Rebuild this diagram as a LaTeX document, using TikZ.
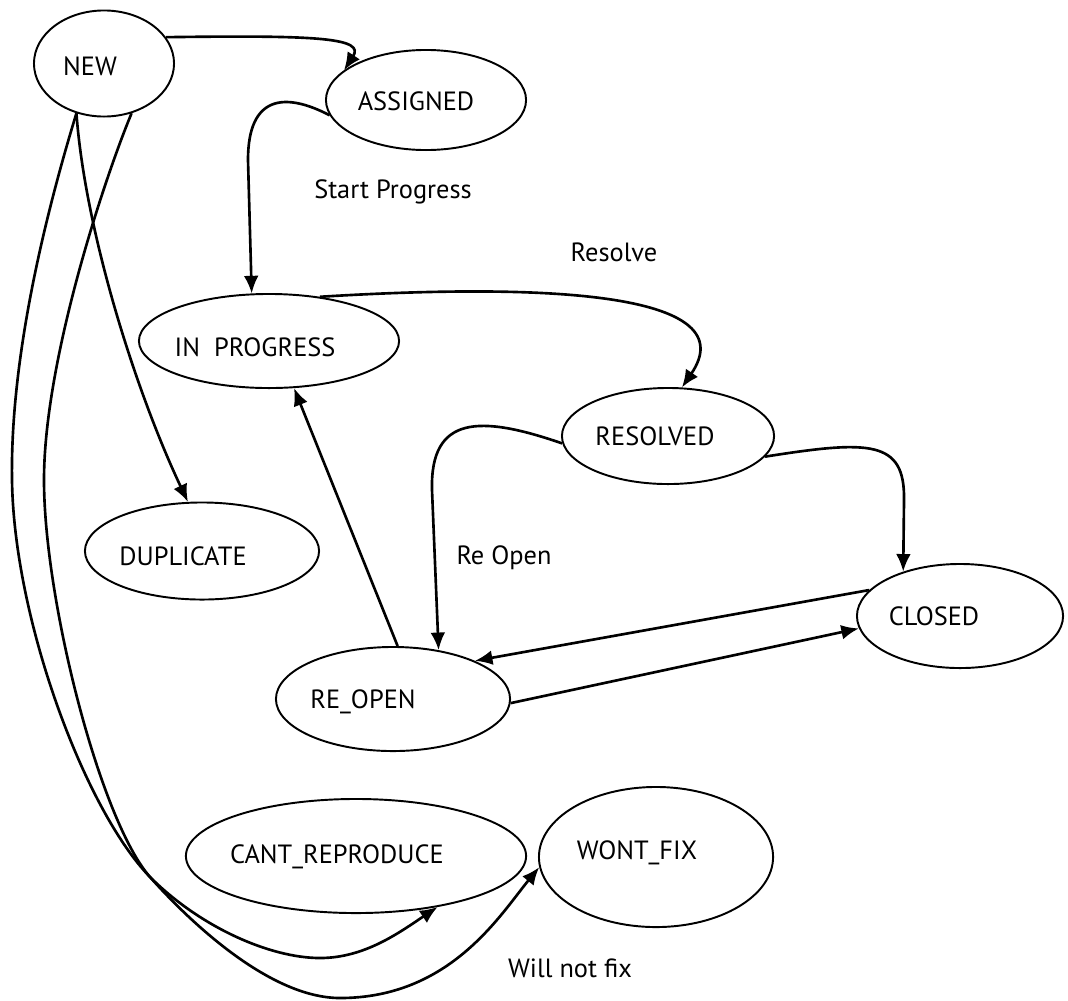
\documentclass[tikz,border=0pt]{standalone}
\usepackage{fontspec}
\setmainfont{PT Sans}
\usetikzlibrary{shapes.geometric,arrows.meta}

\tikzset{
  state/.style={ellipse,draw,line width=0.55pt,inner sep=0pt},
  txt/.style={font=\fontsize{7.5}{9}\selectfont,inner sep=0pt},
  edge/.style={line width=0.75pt,-{Latex[length=5pt,width=4.2pt]}}
}

\begin{document}
\begin{tikzpicture}[x=0.01cm,y=-0.01cm]
\useasboundingbox (0,0) rectangle (1068,1000);

% Draw the nodes
\node[state,minimum width=1.40cm,minimum height=1.06cm] (new) at (104,63.5) {};
\node[state,minimum width=2.00cm,minimum height=1.00cm] (assigned) at (426,100) {};
\node[state,minimum width=2.60cm,minimum height=0.94cm] (ip) at (269,341) {};
\node[state,minimum width=2.12cm,minimum height=0.96cm] (resolved) at (668,436) {};
\node[state,minimum width=2.34cm,minimum height=0.97cm] (dup) at (202,551) {};
\node[state,minimum width=2.06cm,minimum height=1.04cm] (closed) at (960,616) {};
\node[state,minimum width=2.34cm,minimum height=1.04cm] (reopen) at (393,699) {};
\node[state,minimum width=3.40cm,minimum height=1.14cm] (cant) at (356,856) {};
\node[state,minimum width=2.34cm,minimum height=1.40cm] (wont) at (656,857) {};

% Draw the state names
\node[txt] (new-t) at (90,66) {NEW};
\node[txt] (assigned-t) at (416,101) {ASSIGNED};
\node[txt] (ip-t) at (255,347) {IN\ \ PROGRESS};
\node[txt] (resolved-t) at (655,436) {RESOLVED};
\node[txt] (dup-t) at (183,556) {DUPLICATE};
\node[txt] (closed-t) at (934,616) {CLOSED};
\node[txt] (reopen-t) at (363,702) {RE\_OPEN};
\node[txt] (cant-t) at (337,857) {CANT\_REPRODUCE};
\node[txt] (wont-t) at (637,853) {WONT\_FIX};

% Draw the edge labels
\node[txt] (start-l) at (393,192) {Start Progress};
\node[txt] (resolve-l) at (614,252) {Resolve};
\node[txt] (reopen-l) at (504,558) {Re Open};
\node[txt] (wontfix-l) at (570,968) {Will not fix};

% Draw the edges
\draw[edge] (new.23) .. controls (320,35) and (365,38) .. (assigned.160);
\draw[edge] (assigned.189) .. controls (285,92) and (248,95) .. (248,160) -- (ip.110);
\draw[edge] (ip.41) .. controls (560,282) and (745,295) .. (resolved.74);
\draw[edge] (resolved.184) .. controls (480,415) and (430,415) .. (432,490) -- (reopen.47);
\draw[edge] (resolved.348) .. controls (870,440) and (905,440) .. (904,500) -- (closed.142);
\draw[edge] (closed.164) -- (reopen.25);
\draw[edge] (reopen.358) -- (closed.187);
\draw[edge] (reopen.85) -- (ip.-62);
\draw[edge] (new.241) .. controls (85,230) and (135,390) .. (dup.106);
\draw[edge] (new.241) .. controls (50,200) and (10,350) .. (12,480)
  .. controls (14,620) and (85,810) .. (150,877)
  .. controls (200,927) and (270,958) .. (320,958)
  .. controls (365,958) and (400,932) .. (cant.-32);
\draw[edge] (new.299) .. controls (105,177) and (44,360) .. (44,480)
  .. controls (44,600) and (100,820) .. (150,877)
  .. controls (190,922) and (270,998) .. (340,998)
  .. controls (450,998) and (500,915) .. (wont.185);

\end{tikzpicture}
\end{document}
